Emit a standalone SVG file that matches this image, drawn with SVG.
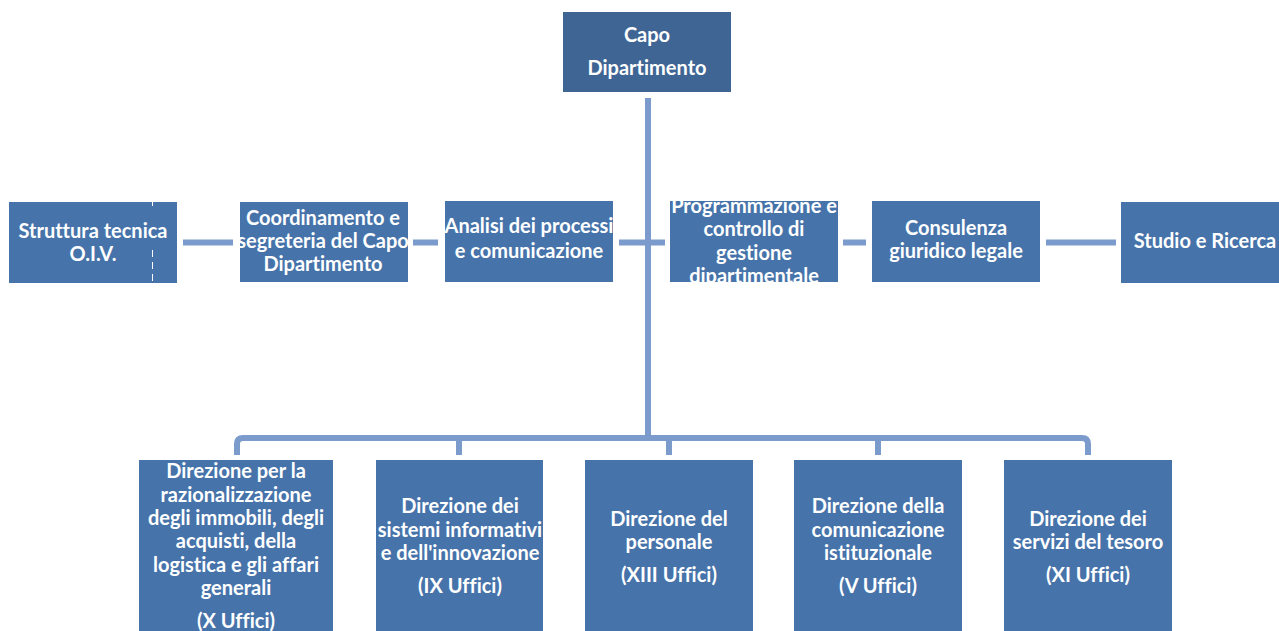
<svg xmlns="http://www.w3.org/2000/svg" width="1279" height="631" viewBox="0 0 1279 631">
<style>
.box{fill:#4673AA}
.top{fill:#3F6595}
.t{font-family:Lato,"Liberation Sans",sans-serif;font-weight:bold;font-size:20px;fill:#ffffff;text-anchor:middle;font-variant-ligatures:none}
.c{fill:none;stroke:#7B9BCC;stroke-width:6}
</style>
<defs>
<clipPath id="clipProg"><rect x="670" y="201" width="168" height="81"/></clipPath>
</defs>
<rect width="1279" height="631" fill="#ffffff"/>
<g id="connectors">
<line class="c" x1="648" y1="98" x2="648" y2="438"/>
<path class="c" d="M237,455 V444 Q237,438 243,438 H1082 Q1088,438 1088,444 V455"/>
<line class="c" x1="459" y1="438" x2="459" y2="455"/>
<line class="c" x1="669" y1="438" x2="669" y2="455"/>
<line class="c" x1="878" y1="438" x2="878" y2="455"/>
<line class="c" x1="183" y1="242.5" x2="233" y2="242.5"/>
<line class="c" x1="413" y1="242.5" x2="438" y2="242.5"/>
<line class="c" x1="619" y1="242.5" x2="665" y2="242.5"/>
<line class="c" x1="843" y1="242.5" x2="866" y2="242.5"/>
<line class="c" x1="1046" y1="242.5" x2="1116" y2="242.5"/>
</g>
<g id="capo">
<rect class="top" x="563" y="12" width="168" height="80"/>
<text class="t" x="647" y="42">Capo</text>
<text class="t" x="647" y="75">Dipartimento</text>
</g>
<g id="struttura">
<rect class="box" x="9" y="202" width="168" height="81"/>
<line x1="152.5" y1="250" x2="152.5" y2="282" stroke="#ffffff" stroke-width="1" stroke-dasharray="7 5"/>
<line x1="152.5" y1="202" x2="152.5" y2="206" stroke="#ffffff" stroke-width="1"/>
<text class="t" x="93" y="238">Struttura tecnica</text>
<text class="t" x="93" y="261">O.I.V.</text>
</g>
<g id="coordinamento">
<rect class="box" x="240" y="202" width="168" height="80"/>
<text class="t" x="323" y="225">Coordinamento e</text>
<text class="t" x="323" y="248">segreteria del Capo</text>
<text class="t" x="323" y="271">Dipartimento</text>
</g>
<g id="analisi">
<rect class="box" x="445" y="201" width="168" height="81"/>
<text class="t" x="529" y="233">Analisi dei processi</text>
<text class="t" x="529" y="258">e comunicazione</text>
</g>
<g id="programmazione">
<rect class="box" x="670" y="201" width="168" height="81"/>
<g clip-path="url(#clipProg)">
<text class="t" x="754" y="213">Programmazione e</text>
<text class="t" x="754" y="236">controllo di</text>
<text class="t" x="754" y="260">gestione</text>
<text class="t" x="754" y="283">dipartimentale</text>
</g>
</g>
<g id="consulenza">
<rect class="box" x="872" y="201" width="168" height="81"/>
<text class="t" x="956" y="235">Consulenza</text>
<text class="t" x="956" y="258">giuridico legale</text>
</g>
<g id="studio">
<rect class="box" x="1121" y="202" width="158" height="81"/>
<text class="t" x="1205" y="248">Studio e Ricerca</text>
</g>
<g id="dir-immobili">
<rect class="box" x="139" y="460" width="194" height="171"/>
<text class="t" x="236" y="478">Direzione per la</text>
<text class="t" x="236" y="502">razionalizzazione</text>
<text class="t" x="236" y="525">degli immobili, degli</text>
<text class="t" x="236" y="548">acquisti, della</text>
<text class="t" x="236" y="572">logistica e gli affari</text>
<text class="t" x="236" y="595">generali</text>
<text class="t" x="236" y="628">(X Uffici)</text>
</g>
<g id="dir-sistemi">
<rect class="box" x="376" y="460" width="167" height="171"/>
<text class="t" x="460" y="513">Direzione dei</text>
<text class="t" x="460" y="537">sistemi informativi</text>
<text class="t" x="460" y="560">e dell'innovazione</text>
<text class="t" x="460" y="593">(IX Uffici)</text>
</g>
<g id="dir-personale">
<rect class="box" x="585" y="460" width="168" height="171"/>
<text class="t" x="669" y="526">Direzione del</text>
<text class="t" x="669" y="549">personale</text>
<text class="t" x="669" y="582">(XIII Uffici)</text>
</g>
<g id="dir-comunicazione">
<rect class="box" x="794" y="460" width="168" height="171"/>
<text class="t" x="878" y="513">Direzione della</text>
<text class="t" x="878" y="537">comunicazione</text>
<text class="t" x="878" y="560">istituzionale</text>
<text class="t" x="878" y="593">(V Uffici)</text>
</g>
<g id="dir-tesoro">
<rect class="box" x="1004" y="460" width="168" height="171"/>
<text class="t" x="1088" y="526">Direzione dei</text>
<text class="t" x="1088" y="549">servizi del tesoro</text>
<text class="t" x="1088" y="582">(XI Uffici)</text>
</g>
</svg>
